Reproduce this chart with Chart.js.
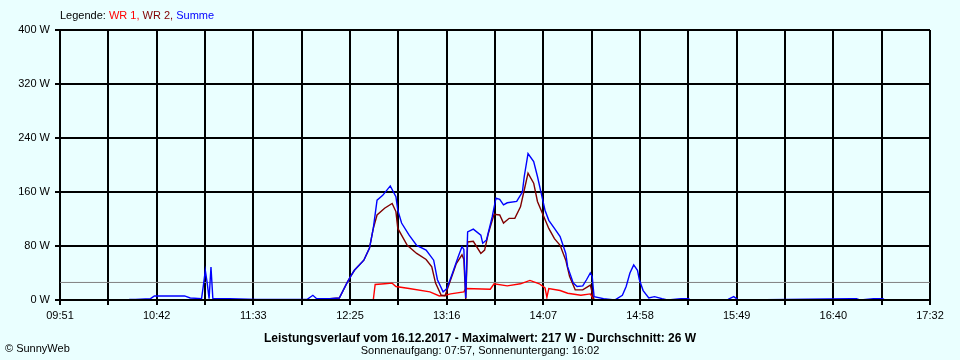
<!DOCTYPE html>
<html>
<head>
<meta charset="utf-8">
<script src="https://cdn.jsdelivr.net/npm/chart.js@4.4.1/dist/chart.umd.min.js"></script>
<style>
  html, body { margin: 0; padding: 0; background: #eaffff; }
  #wrap { position: relative; width: 960px; height: 360px; font-family: "Liberation Sans", Arial, sans-serif; font-size: 11px; color: #000; }
  #chart { position: absolute; left: 0; top: 0; }
  .legend { position: absolute; left: 60px; top: 9px; white-space: nowrap; }
  .title { position: absolute; left: 0; width: 960px; text-align: center; top: 331px; font-weight: bold; font-size: 12px; white-space: nowrap; }
  .sub { position: absolute; left: 0; width: 960px; text-align: center; top: 344px; white-space: nowrap; }
  .copy { position: absolute; left: 5px; top: 342px; }
</style>
</head>
<body>
<div id="wrap">
  <canvas id="chart" width="960" height="360"></canvas>
  <div class="legend">Legende: <span style="color:#ff0000">WR 1,</span> <span style="color:#800000">WR 2,</span> <span style="color:#0000ff">Summe</span></div>
  <div class="title">Leistungsverlauf vom 16.12.2017 - Maximalwert: 217 W - Durchschnitt: 26 W</div>
  <div class="sub">Sonnenaufgang: 07:57, Sonnenuntergang: 16:02</div>
  <div class="copy">&copy; SunnyWeb</div>
</div>
<script>
// axis labels (every second grid line carries a time)
const tickLabels = ['09:51', '10:42', '11:33', '12:25', '13:16', '14:07', '14:58', '15:49', '16:40', '17:32'];
const averageW = 26;

// Summe (blue)
const sumTimes = ['10:27','10:28','10:31','10:39','10:41','10:57','11:00','11:06','11:07','11:08','11:09','11:10','11:11','11:12',
  '11:21','11:35','11:48','12:02','12:05','12:07','12:14','12:19','12:23','12:25','12:27','12:32','12:35','12:37','12:39','12:42',
  '12:46','12:49','12:50','12:52','12:56','13:00','13:05','13:09','13:11','13:14','13:16','13:19','13:22','13:24','13:25','13:26',
  '13:27','13:30','13:34','13:35','13:37','13:40','13:42','13:44','13:46','13:48','13:53','13:56','13:57','13:59','14:02','14:04',
  '14:06','14:08','14:10','14:13','14:16','14:19','14:20','14:23','14:25','14:28','14:30','14:32','14:33','14:34','14:39','14:45',
  '14:49','14:51','14:53','14:55','14:57','14:58','15:00','15:03','15:06','15:10','15:13','15:20','15:24','15:25','15:45','15:48',
  '15:50','15:52','16:50','16:53','16:55','17:02','17:07','17:08'];
const sumWatts = [0,1,1,2,6,6,3,2,22,44,25,2,49,2,
  2,1,1,1,7,2,2,3,25,35,44,59,77,106,148,155,
  169,153,133,114,96,81,74,59,30,12,17,40,64,79,75,3,
  101,105,96,84,89,123,151,149,141,144,146,160,183,217,205,183,
  158,133,118,106,94,69,49,25,20,21,30,40,35,5,2,0,
  7,20,40,52,44,30,14,3,5,2,0,2,2,0,1,5,
  1,0,2,2,0,2,2,0];

// WR 1 (red)
const wr1Times = ['12:37','12:38','12:43','12:47','12:49','12:56','13:07','13:12','13:15','13:18','13:25','13:26','13:39',
  '13:41','13:48','13:55','14:00','14:05','14:08','14:09','14:10','14:16','14:20','14:27','14:32','14:34'];
const wr1Watts = [0,23,24,25,20,17,12,6,7,9,12,17,16,
  24,21,24,29,24,18,4,17,14,10,7,9,0];

// WR 2 (dark red)
const wr2Times = ['12:14','12:19','12:23','12:25','12:27','12:32','12:35','12:37','12:39','12:43','12:47','12:49','12:50',
  '12:55','13:00','13:05','13:08','13:10','13:13','13:15','13:18','13:21','13:24','13:25','13:26','13:27','13:30','13:34',
  '13:36','13:38','13:41','13:44','13:46','13:49','13:52','13:55','13:57','13:59','14:02','14:04','14:07','14:10','14:13',
  '14:16','14:19','14:21','14:24','14:28','14:32','14:34'];
const wr2Watts = [2,3,25,35,44,59,77,106,126,136,143,131,106,
  81,69,60,49,25,7,6,30,54,67,60,0,86,87,69,
  74,99,127,126,114,121,121,138,163,188,173,146,126,106,91,
  81,59,35,15,15,22,0];

const START = 9 * 60 + 51;
function toMin(s) { const [h, m] = s.split(':').map(Number); return h * 60 + m - START; }
function pts(times, vals) { return times.map((t, i) => ({ x: toMin(t), y: vals[i] })); }

const xMax = toMin(tickLabels[tickLabels.length - 1]);
const steps = (tickLabels.length - 1) * 2;

Chart.defaults.font.family = '"Liberation Sans", Arial, sans-serif';
Chart.defaults.font.size = 11;
Chart.defaults.color = '#000';

// hide values sitting on the zero line behind the axis, like the original
const clip = { left: 0, top: 0, right: 0, bottom: -1 };
const line = (data, color, extra) => Object.assign({
  data, borderColor: color, borderWidth: 1.4, pointRadius: 0, tension: 0, fill: false, clip
}, extra || {});

new Chart(document.getElementById('chart'), {
  type: 'line',
  data: {
    datasets: [
      line(pts(sumTimes, sumWatts), '#0000ff', { label: 'Summe' }),
      line(pts(wr2Times, wr2Watts), '#800000', { label: 'WR 2' }),
      line(pts(wr1Times, wr1Watts), '#ff0000', { label: 'WR 1' }),
      line([{ x: 0, y: averageW }, { x: xMax, y: averageW }], '#808080', { label: 'avg', borderWidth: 1 })
    ]
  },
  options: {
    responsive: false,
    animation: false,
    devicePixelRatio: 1,
    layout: { padding: { top: 30, right: 30, left: 0, bottom: 0 } },
    plugins: { legend: { display: false }, tooltip: { enabled: false } },
    scales: {
      x: {
        type: 'linear', min: 0, max: xMax,
        afterBuildTicks: (s) => { s.ticks = Array.from({ length: steps + 1 }, (_, i) => ({ value: i * xMax / steps })); },
        afterFit: (s) => { s.height = 60; },
        ticks: { autoSkip: false, maxRotation: 0, padding: 4,
          callback: (v, i) => (i % 2 === 0 ? tickLabels[i / 2] : '') },
        grid: { color: '#000', lineWidth: 2, tickLength: 5 },
        border: { color: '#000', width: 2 }
      },
      y: {
        min: 0, max: 400,
        afterFit: (s) => { s.width = 60; },
        ticks: { stepSize: 80, padding: 5, callback: (v) => v + ' W' },
        grid: { color: '#000', lineWidth: 2, tickLength: 5 },
        border: { color: '#000', width: 2 }
      }
    }
  }
});
</script>
</body>
</html>
